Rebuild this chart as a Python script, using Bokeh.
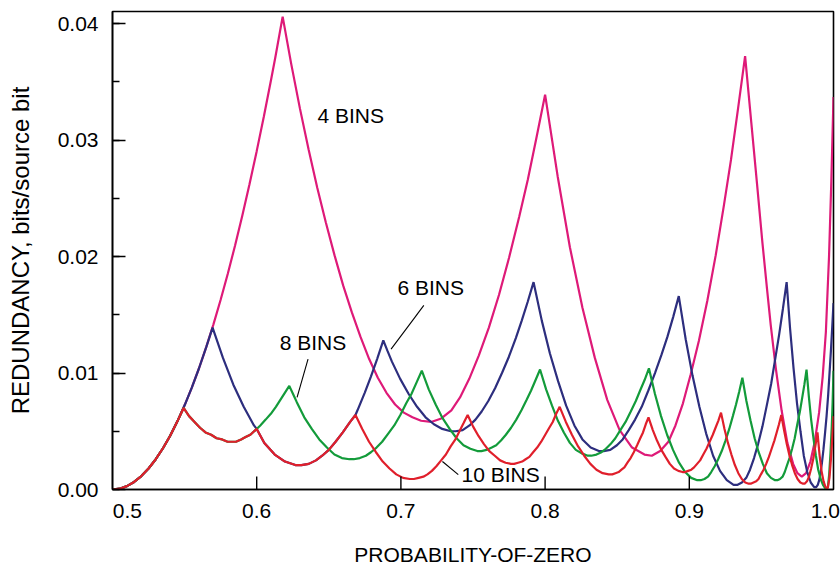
from bokeh.plotting import figure
from bokeh.models import Label, SingleIntervalTicker, FixedTicker, NumeralTickFormatter, Range1d
from bokeh.embed import file_html
from bokeh.resources import INLINE

# ---------------- data ----------------
# 4 BINS
p4 = [0.500, 0.505, 0.510, 0.515, 0.520, 0.525, 0.530, 0.535, 0.540, 0.545, 0.550, 0.555, 0.560, 0.565,
      0.570, 0.575, 0.580, 0.585, 0.590, 0.595, 0.600, 0.605, 0.610, 0.613, 0.618,
      0.624, 0.630, 0.636, 0.642, 0.648, 0.654, 0.660, 0.666, 0.672, 0.678, 0.684, 0.690, 0.696, 0.702, 0.708, 0.714, 0.721,
      0.728, 0.735, 0.741, 0.7474, 0.754, 0.761, 0.768, 0.775, 0.782, 0.788, 0.794, 0.800,
      0.8087, 0.8172, 0.8259, 0.8345, 0.8431, 0.8517, 0.8603, 0.8689, 0.874,
      0.8798, 0.8855, 0.8904, 0.8956, 0.901, 0.9067, 0.9125, 0.9183, 0.924, 0.9289, 0.9338, 0.9387,
      0.943, 0.947, 0.9507, 0.954, 0.9565, 0.960, 0.964, 0.968, 0.972, 0.975, 0.978,
      0.981, 0.984, 0.987, 0.990, 0.9925, 0.9947, 0.9969, 0.9985, 1.000]
r4 = [0.0, 0.00007, 0.00029, 0.00065, 0.00115, 0.0018, 0.0026, 0.00354, 0.00462, 0.00585, 0.00723, 0.00875, 0.01041, 0.01222,
      0.01418, 0.01629, 0.01855, 0.02095, 0.02351, 0.0262, 0.02905, 0.03205, 0.0352, 0.03716, 0.0406,
      0.0365, 0.0327, 0.0292, 0.0259, 0.0229, 0.0201, 0.0175, 0.0152, 0.0131, 0.0112, 0.0096, 0.0083, 0.0073, 0.0066, 0.0062, 0.0059, 0.0058,
      0.0061, 0.0068, 0.0079, 0.0095, 0.0115, 0.0139, 0.0167, 0.0199, 0.0234, 0.0266, 0.0302, 0.0339,
      0.0269, 0.0208, 0.0156, 0.0113, 0.0077, 0.0051, 0.0036, 0.0030, 0.0029,
      0.0033, 0.0041, 0.0055, 0.0074, 0.0099, 0.0128, 0.0162, 0.0201, 0.0244, 0.0283, 0.0327, 0.0372,
      0.0315, 0.0262, 0.0212, 0.0171, 0.0141, 0.0104, 0.0068, 0.0040, 0.0022, 0.0014, 0.0011,
      0.0014, 0.0024, 0.0041, 0.0066, 0.0097, 0.0135, 0.0200, 0.0265, 0.0337]

# 6 BINS
p6 = [0.500, 0.505, 0.510, 0.515, 0.520, 0.525, 0.530, 0.535, 0.540, 0.545, 0.550, 0.555, 0.560, 0.565, 0.5694,
      0.5766, 0.5838, 0.591, 0.5981, 0.600, 0.6053, 0.6125, 0.6196, 0.6268, 0.631,
      0.6361, 0.6411, 0.6454, 0.650, 0.6547, 0.6597, 0.6648, 0.6685, 0.6699, 0.6749, 0.6792, 0.6835, 0.6878,
      0.6907, 0.6937, 0.6995, 0.7054, 0.7112, 0.7171, 0.7229, 0.7287, 0.7346, 0.738,
      0.7428, 0.7476, 0.7517, 0.756, 0.7606, 0.7653, 0.7701, 0.7749, 0.7797, 0.7838, 0.7879, 0.792,
      0.7977, 0.8033, 0.809, 0.8146, 0.8203, 0.8259, 0.8316, 0.8373, 0.8406,
      0.8452, 0.8498, 0.8538, 0.858, 0.8624, 0.867, 0.8716, 0.8762, 0.8808, 0.8848, 0.8888, 0.8927,
      0.8975, 0.9022, 0.907, 0.9117, 0.9165, 0.9213, 0.926, 0.9307, 0.9335,
      0.9365, 0.9395, 0.9421, 0.9449, 0.9477, 0.9507, 0.9537, 0.9568, 0.9597, 0.9623, 0.9649, 0.9675,
      0.9699, 0.9723, 0.9747, 0.9771, 0.9794, 0.9818, 0.9842, 0.9866, 0.988,
      0.9891, 0.9901, 0.991, 0.992, 0.993, 0.9941, 0.9952, 0.9963, 0.9973, 0.9982, 0.9991, 1.000]
r6 = [0.0, 0.00007, 0.00029, 0.00065, 0.00115, 0.0018, 0.0026, 0.00354, 0.00462, 0.00585, 0.00723, 0.00875, 0.01041, 0.01222, 0.0139,
      0.0113, 0.0090, 0.0071, 0.0055, 0.0052, 0.0040, 0.0030, 0.0024, 0.0021, 0.0021,
      0.0022, 0.0025, 0.0029, 0.0034, 0.0041, 0.0049, 0.0058, 0.0064, 0.0068, 0.0083, 0.0097, 0.0112, 0.0128,
      0.0119, 0.0110, 0.0095, 0.0082, 0.0071, 0.0062, 0.0056, 0.0052, 0.0050, 0.0050,
      0.0051, 0.0055, 0.0060, 0.0067, 0.0076, 0.0087, 0.0100, 0.0114, 0.0130, 0.0145, 0.0161, 0.0178,
      0.0145, 0.0117, 0.0093, 0.0072, 0.0055, 0.0043, 0.0036, 0.0033, 0.0033,
      0.0034, 0.0038, 0.0043, 0.0051, 0.0060, 0.0071, 0.0085, 0.0100, 0.0116, 0.0131, 0.0148, 0.0166,
      0.0129, 0.0098, 0.0071, 0.0048, 0.0029, 0.0016, 0.0008, 0.0004, 0.0004,
      0.0006, 0.0010, 0.0017, 0.0027, 0.0039, 0.0054, 0.0072, 0.0091, 0.0113, 0.0133, 0.0155, 0.0178,
      0.0138, 0.0104, 0.0074, 0.0050, 0.0029, 0.0015, 0.0006, 0.0002, 0.0002,
      0.0004, 0.0008, 0.0014, 0.0023, 0.0034, 0.0048, 0.0063, 0.0081, 0.0101, 0.0119, 0.0139, 0.0160]

# 8 BINS
p8 = [0.500, 0.505, 0.510, 0.515, 0.520, 0.525, 0.530, 0.535, 0.540, 0.545, 0.5493,
      0.5531, 0.5569, 0.5607, 0.5645, 0.5684, 0.5722, 0.576, 0.5798, 0.582,
      0.5856, 0.5892, 0.5923, 0.5956, 0.600, 0.6025, 0.6062, 0.6098, 0.6133, 0.6164, 0.6195, 0.6226,
      0.6252, 0.6278, 0.633, 0.6382, 0.6434, 0.6487, 0.6539, 0.6591, 0.6643, 0.6673,
      0.6715, 0.6757, 0.6792, 0.6831, 0.687, 0.6912, 0.6954, 0.6996, 0.7037, 0.7073, 0.7109, 0.7145,
      0.7193, 0.7241, 0.729, 0.7338, 0.7386, 0.7434, 0.7482, 0.753, 0.7558,
      0.7594, 0.763, 0.7661, 0.7694, 0.7728, 0.7764, 0.780, 0.7836, 0.7872, 0.7903, 0.7934, 0.7965,
      0.8007, 0.8048, 0.8089, 0.813, 0.8172, 0.8213, 0.8254, 0.8296, 0.832,
      0.8356, 0.8391, 0.8421, 0.8454, 0.8487, 0.8522, 0.8558, 0.8594, 0.8629, 0.8659, 0.869, 0.872,
      0.8762, 0.8804, 0.8846, 0.8887, 0.8929, 0.8971, 0.9013, 0.9055, 0.9079,
      0.9105, 0.913, 0.9152, 0.9176, 0.920, 0.9225, 0.9251, 0.9277, 0.9302, 0.9324, 0.9346, 0.9368,
      0.9396, 0.9425, 0.9453, 0.9481, 0.951, 0.9538, 0.9566, 0.9595, 0.9611,
      0.9629, 0.9647, 0.9662, 0.9678, 0.9695, 0.9713, 0.9731, 0.9749, 0.9767, 0.9782, 0.9798, 0.9813,
      0.9829, 0.9845, 0.9862, 0.9878, 0.9894, 0.9911, 0.9927, 0.9943, 0.9952,
      0.9961, 0.997, 0.9979, 0.9988, 0.9994, 1.000]
r8 = [0.0, 0.00007, 0.00029, 0.00065, 0.00115, 0.0018, 0.0026, 0.00354, 0.00462, 0.00585, 0.0070,
      0.0063, 0.0058, 0.0053, 0.0049, 0.0047, 0.0044, 0.0043, 0.0041, 0.0041,
      0.0041, 0.0043, 0.0045, 0.0047, 0.0052, 0.0055, 0.0060, 0.0065, 0.0071, 0.0077, 0.0083, 0.0089,
      0.0082, 0.0075, 0.0062, 0.0052, 0.0043, 0.0036, 0.0030, 0.0027, 0.0026, 0.0026,
      0.0027, 0.0029, 0.0032, 0.0036, 0.0041, 0.0048, 0.0055, 0.0064, 0.0074, 0.0082, 0.0092, 0.0102,
      0.0086, 0.0073, 0.0061, 0.0052, 0.0044, 0.0038, 0.0035, 0.0033, 0.0033,
      0.0034, 0.0036, 0.0038, 0.0042, 0.0047, 0.0053, 0.0060, 0.0068, 0.0077, 0.0085, 0.0094, 0.0103,
      0.0086, 0.0072, 0.0059, 0.0049, 0.0040, 0.0034, 0.0031, 0.0029, 0.0029,
      0.0030, 0.0032, 0.0035, 0.0039, 0.0044, 0.0051, 0.0058, 0.0067, 0.0076, 0.0085, 0.0094, 0.0104,
      0.0082, 0.0063, 0.0047, 0.0034, 0.0023, 0.0015, 0.0010, 0.0008, 0.0008,
      0.0009, 0.0011, 0.0015, 0.0020, 0.0026, 0.0033, 0.0042, 0.0052, 0.0063, 0.0073, 0.0084, 0.0096,
      0.0076, 0.0059, 0.0044, 0.0032, 0.0022, 0.0014, 0.0010, 0.0008, 0.0008,
      0.0009, 0.0011, 0.0015, 0.0021, 0.0027, 0.0035, 0.0044, 0.0056, 0.0067, 0.0078, 0.0090, 0.0103,
      0.0080, 0.0060, 0.0043, 0.0029, 0.0017, 0.0009, 0.0004, 0.0001, 0.0001,
      0.0002, 0.0013, 0.0031, 0.0054, 0.0075, 0.0102]

# 10 BINS
p10 = [0.500, 0.505, 0.510, 0.515, 0.520, 0.525, 0.530, 0.535, 0.540, 0.545, 0.5493,
       0.5531, 0.5569, 0.5607, 0.5645, 0.5684, 0.5722, 0.576, 0.5798, 0.582,
       0.5856, 0.5892, 0.5923, 0.5956, 0.600,
       0.6053, 0.6125, 0.6196, 0.6268, 0.631, 0.6361, 0.6411, 0.6454, 0.650, 0.6547, 0.6597, 0.6648, 0.6685,
       0.6732, 0.6779, 0.6827, 0.6874, 0.6921, 0.6968, 0.7015, 0.7062, 0.709,
       0.7123, 0.7156, 0.7184, 0.7215, 0.7246, 0.7279, 0.7312, 0.7345, 0.7378, 0.7406, 0.7435, 0.7463,
       0.7501, 0.7538, 0.7576, 0.7613, 0.7651, 0.7688, 0.7726, 0.7763, 0.7785,
       0.7813, 0.7841, 0.7865, 0.7891, 0.7917, 0.7945, 0.7973, 0.8001, 0.8029, 0.8053, 0.8077, 0.8101,
       0.8144, 0.8186, 0.8229, 0.8271, 0.8314, 0.8356, 0.8399, 0.8441, 0.8466,
       0.8488, 0.851, 0.853, 0.855, 0.8571, 0.8593, 0.8615, 0.8638, 0.866, 0.8679, 0.8698, 0.8717,
       0.8747, 0.8776, 0.8806, 0.8835, 0.8865, 0.8894, 0.8924, 0.8953, 0.897,
       0.8992, 0.9014, 0.9033, 0.9054, 0.9075, 0.9097, 0.9119, 0.9141, 0.9163, 0.9182, 0.9201, 0.922,
       0.9244, 0.9268, 0.9292, 0.9316, 0.934, 0.9364, 0.9388, 0.9412, 0.9426,
       0.9445, 0.9464, 0.948, 0.9497, 0.9515, 0.9533, 0.9552, 0.9571, 0.959, 0.9606, 0.9622, 0.9638,
       0.9657, 0.9676, 0.9695, 0.9713, 0.9732, 0.9751, 0.977, 0.9789, 0.980,
       0.9816, 0.983, 0.9845, 0.9861, 0.9875, 0.9889,
       0.9903, 0.9917, 0.9931, 0.9945, 0.996, 0.9972, 0.9982, 0.9991, 1.000]
r10 = [0.0, 0.00007, 0.00029, 0.00065, 0.00115, 0.0018, 0.0026, 0.00354, 0.00462, 0.00585, 0.0070,
       0.0063, 0.0058, 0.0053, 0.0049, 0.0047, 0.0044, 0.0043, 0.0041, 0.0041,
       0.0041, 0.0043, 0.0045, 0.0047, 0.0052,
       0.0040, 0.0030, 0.0024, 0.0021, 0.0021, 0.0022, 0.0025, 0.0029, 0.0034, 0.0041, 0.0049, 0.0058, 0.0064,
       0.0052, 0.0041, 0.0032, 0.0024, 0.0018, 0.0013, 0.0010, 0.0009, 0.0009,
       0.0010, 0.0011, 0.0013, 0.0016, 0.0020, 0.0025, 0.0030, 0.0037, 0.0043, 0.0050, 0.0057, 0.0064,
       0.0054, 0.0046, 0.0039, 0.0033, 0.0029, 0.0025, 0.0023, 0.0022, 0.0022,
       0.0023, 0.0024, 0.0026, 0.0028, 0.0032, 0.0036, 0.0041, 0.0047, 0.0053, 0.0058, 0.0065, 0.0071,
       0.0058, 0.0047, 0.0037, 0.0029, 0.0022, 0.0017, 0.0014, 0.0013, 0.0013,
       0.0014, 0.0015, 0.0017, 0.0019, 0.0023, 0.0027, 0.0032, 0.0038, 0.0044, 0.0049, 0.0056, 0.0062,
       0.0051, 0.0042, 0.0034, 0.0028, 0.0022, 0.0018, 0.0016, 0.0015, 0.0015,
       0.0016, 0.0017, 0.0019, 0.0022, 0.0025, 0.0030, 0.0035, 0.0041, 0.0047, 0.0053, 0.0059, 0.0066,
       0.0052, 0.0040, 0.0030, 0.0021, 0.0014, 0.0009, 0.0006, 0.0005, 0.0005,
       0.0006, 0.0007, 0.0009, 0.0013, 0.0017, 0.0022, 0.0028, 0.0035, 0.0042, 0.0049, 0.0056, 0.0064,
       0.0051, 0.0039, 0.0029, 0.0021, 0.0014, 0.0009, 0.0006, 0.0005, 0.0005,
       0.0007, 0.0011, 0.0018, 0.0027, 0.0038, 0.0049,
       0.0030, 0.0016, 0.0007, 0.0002, 0.0001, 0.0010, 0.0026, 0.0043, 0.0063]

x_ticks = [0.6, 0.7, 0.8, 0.9]
# the first and last x tick labels sit inside the frame edges in the reference
x_label_pos = [0.5103, 0.6, 0.7, 0.8, 0.9, 0.9943]
x_label_txt = ["0.5", "0.6", "0.7", "0.8", "0.9", "1.0"]
x_title = "PROBABILITY-OF-ZERO"
y_title = "REDUNDANCY, bits/source bit"

# annotations: (text, x, y)
notes = [("4 BINS", 0.6421, 0.03208), ("6 BINS", 0.6976, 0.01735),
         ("8 BINS", 0.6159, 0.01265), ("10 BINS", 0.7420, 0.00126)]
leaders = [([0.7159, 0.6932], [0.01581, 0.01205]),
           ([0.6356, 0.6280], [0.01119, 0.00791]),
           ([0.7398, 0.7288], [0.00128, 0.00240])]

FONT = "Liberation Sans"
FS = "21px"

p = figure(width=840, height=568, output_backend="svg", toolbar_location=None,
           x_range=Range1d(0.5, 1.0), y_range=Range1d(0.0, 0.04104),
           min_border_left=112, min_border_right=7, min_border_top=11, min_border_bottom=77)
p.title.visible = False
p.grid.visible = False
p.background_fill_color = "white"
p.border_fill_color = "white"
p.outline_line_color = "black"
p.outline_line_width = 1.6
p.outline_line_alpha = 1.0

# curves
p.line(p4, r4, line_color="#DE1A78", line_width=2.2)
p.line(p6, r6, line_color="#2D2E7E", line_width=2.2)
p.line(p8, r8, line_color="#139B3A", line_width=2.2)
p.line(p10, r10, line_color="#E01F2B", line_width=2.2)

for xs, ys in leaders:
    p.line(xs, ys, line_color="black", line_width=1.1)

for t, x, y in notes:
    p.add_layout(Label(x=x, y=y, text=t, text_font=FONT, text_font_size=FS,
                       text_color="black", text_align="left", text_baseline="alphabetic"))

# x tick marks (inward) drawn at the tick values
tick_len = 0.00111
p.segment(x0=x_ticks, y0=[0.0] * len(x_ticks), x1=x_ticks, y1=[tick_len] * len(x_ticks),
          line_color="black", line_width=1.4)

# x axis
xa = p.xaxis[0]
xa.ticker = FixedTicker(ticks=x_label_pos, minor_ticks=[])
xa.major_label_overrides = {pos: txt for pos, txt in zip(x_label_pos, x_label_txt)}
xa.major_tick_in = 0
xa.major_tick_out = 0
xa.minor_tick_in = 0
xa.minor_tick_out = 0
xa.axis_line_width = 1.6
xa.major_label_text_font = FONT
xa.major_label_text_font_size = FS
xa.major_label_text_color = "black"
xa.major_label_standoff = 14
xa.axis_label = x_title
xa.axis_label_text_font = FONT
xa.axis_label_text_font_size = FS
xa.axis_label_text_font_style = "normal"
xa.axis_label_text_color = "black"
xa.axis_label_standoff = 22

# y axis
ya = p.yaxis[0]
ya.ticker = SingleIntervalTicker(interval=0.01, num_minor_ticks=2)
ya.formatter = NumeralTickFormatter(format="0.00")
ya.major_tick_in = 13
ya.major_tick_out = 0
ya.minor_tick_in = 7
ya.minor_tick_out = 0
ya.axis_line_width = 1.6
ya.major_tick_line_width = 1.4
ya.minor_tick_line_width = 1.4
ya.major_label_text_font = FONT
ya.major_label_text_font_size = FS
ya.major_label_text_color = "black"
ya.major_label_standoff = 14
ya.axis_label = y_title
ya.axis_label_text_font = FONT
ya.axis_label_text_font_size = "24px"
ya.axis_label_text_font_style = "normal"
ya.axis_label_text_color = "black"
ya.axis_label_standoff = 21

open("out.html", "w").write(file_html(p, INLINE))
